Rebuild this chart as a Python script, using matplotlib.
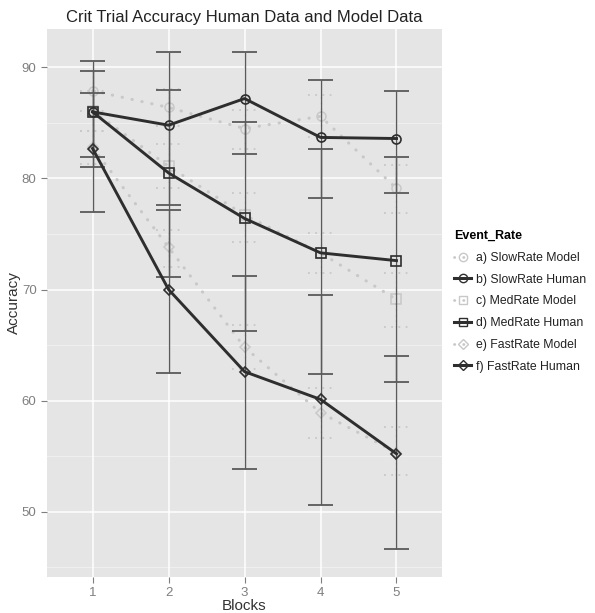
import matplotlib
matplotlib.use("Agg")
import matplotlib.pyplot as plt
from matplotlib.lines import Line2D

plt.rcParams['font.family'] = ['Liberation Sans', 'DejaVu Sans']

# data
blocks = [1, 2, 3, 4, 5]
series_names = ["a) SlowRate Model", "b) SlowRate Human",
                "c) MedRate Model", "d) MedRate Human",
                "e) FastRate Model", "f) FastRate Human"]

slow_model = [87.9, 86.4, 84.5, 85.6, 79.1]
slow_model_lo = [86.1, 84.7, 82.7, 83.7, 76.9]
slow_model_hi = [89.7, 88.1, 86.2, 87.5, 81.2]

slow_human = [86.0, 84.8, 87.2, 83.7, 83.6]
slow_human_lo = [81.9, 77.6, 82.2, 78.2, 78.7]
slow_human_hi = [90.6, 91.4, 91.4, 88.9, 87.9]

med_model = [86.1, 81.1, 76.7, 73.3, 69.1]
med_model_lo = [84.3, 79.1, 74.3, 71.5, 66.6]
med_model_hi = [87.9, 83.1, 78.7, 75.1, 71.5]

med_human = [86.0, 80.5, 76.4, 73.3, 72.6]
med_human_lo = [81.0, 71.1, 66.3, 62.4, 61.7]
med_human_hi = [89.7, 88.0, 85.1, 82.7, 81.9]

fast_model = [82.8, 73.8, 64.8, 58.9, 55.3]
fast_model_lo = [81.3, 72.0, 62.8, 56.6, 53.3]
fast_model_hi = [84.3, 75.4, 66.8, 61.1, 57.6]

fast_human = [82.7, 70.0, 62.6, 60.1, 55.2]
fast_human_lo = [77.0, 62.5, 53.8, 50.6, 46.6]
fast_human_hi = [87.7, 77.2, 71.2, 69.5, 64.0]

y_ticks = [50, 60, 70, 80, 90]
y_minor = [45, 55, 65, 75, 85]

model_color = '#c8c8c8'
human_color = '#2e2e2e'
bar_color = '#5a5a5a'

fig = plt.figure(figsize=(5.95, 6.13), dpi=100)
ax = fig.add_axes([0.079, 0.0587, 0.664, 0.8946])
ax.set_facecolor('#E5E5E5')

# grid lines like ggplot's grey theme
for v in y_minor:
    ax.axhline(v, color='#F2F2F2', lw=0.6, zorder=0)
for v in y_ticks:
    ax.axhline(v, color='white', lw=1.1, zorder=0)
for b in blocks:
    ax.axvline(b, color='white', lw=1.1, zorder=0)

cap = 0.165


def draw_bars(lo, hi, color, ls, lw, z):
    ax.vlines(blocks, lo, hi, colors=color, linestyles=ls, lw=lw, zorder=z)
    ax.hlines(lo, [b - cap for b in blocks], [b + cap for b in blocks],
              colors=color, linestyles=ls, lw=lw + 0.3, zorder=z)
    ax.hlines(hi, [b - cap for b in blocks], [b + cap for b in blocks],
              colors=color, linestyles=ls, lw=lw + 0.3, zorder=z)


models = [(slow_model, slow_model_lo, slow_model_hi, 'o'),
          (med_model, med_model_lo, med_model_hi, 's'),
          (fast_model, fast_model_lo, fast_model_hi, 'D')]
humans = [(slow_human, slow_human_lo, slow_human_hi, 'o'),
          (med_human, med_human_lo, med_human_hi, 's'),
          (fast_human, fast_human_lo, fast_human_hi, 'D')]

dots = (0, (0.1, 3.2))
bar_dots = (0, (1, 3))

#model series: dotted light lines
for vals, lo, hi, mk in models:
    draw_bars(lo, hi, model_color, bar_dots, 1.0, 2)
    line, = ax.plot(blocks, vals, color=model_color, lw=2.2, ls=dots, zorder=3)
    line.set_dash_capstyle('round')
    ax.plot(blocks, vals, ls='none', marker=mk, ms=6.5 if mk != 'D' else 5.5,
            mfc='none', mec=model_color, mew=1.1, zorder=3)

#human series: solid dark lines
for vals, lo, hi, mk in humans:
    draw_bars(lo, hi, bar_color, 'solid', 1.0, 4)
    ax.plot(blocks, vals, color=human_color, lw=2.1, zorder=5)
    ax.plot(blocks, vals, ls='none', marker=mk, ms=6.5 if mk != 'D' else 5.5,
            mfc='none', mec=human_color, mew=1.2, zorder=5)

ax.set_xlim(0.4, 5.6)
ax.set_ylim(44.1, 93.5)
ax.set_xticks(blocks)
ax.set_xticklabels([str(b) for b in blocks])
ax.set_yticks(y_ticks)
for s in ax.spines.values():
    s.set_visible(False)
ax.tick_params(axis='both', colors='#7f7f7f', labelsize=9.5, length=4,
               width=0.8, labelcolor='#7f7f7f')

ax.set_xlabel("Blocks", fontsize=11, color='#333333', labelpad=0)
ax.set_ylabel("Accuracy", fontsize=11, color='#333333')
ax.yaxis.set_label_coords(-0.067, 0.5)
ax.set_title("Crit Trial Accuracy Human Data and Model Data", fontsize=12,
             color='#222222', pad=5)

# legend
handles = []
for (vals, lo, hi, mk), (hv, hlo, hhi, hmk) in zip(models, humans):
    ml, = ax.plot([], [], color=model_color, lw=2.0, ls=dots, marker=mk,
                  ms=6 if mk != 'D' else 5, mfc='none', mec=model_color)
    ml.set_dash_capstyle('round')
    handles.append(ml)
    handles.append(Line2D([], [], color=human_color, lw=2.2, marker=hmk,
                          ms=6 if hmk != 'D' else 5, mfc='none', mec=human_color))
leg = fig.legend(handles, series_names, loc='upper left',
                 bbox_to_anchor=(0.745, 1 - 219 / 613), frameon=False,
                 fontsize=8.8, title="Event_Rate", title_fontsize=9,
                 handlelength=1.4, handletextpad=0.35, labelspacing=0.8,
                 alignment='left')
leg.get_title().set_fontweight('bold')
for t in leg.get_texts():
    t.set_color('#222222')

fig.savefig("out.png", dpi=100, facecolor='white')
